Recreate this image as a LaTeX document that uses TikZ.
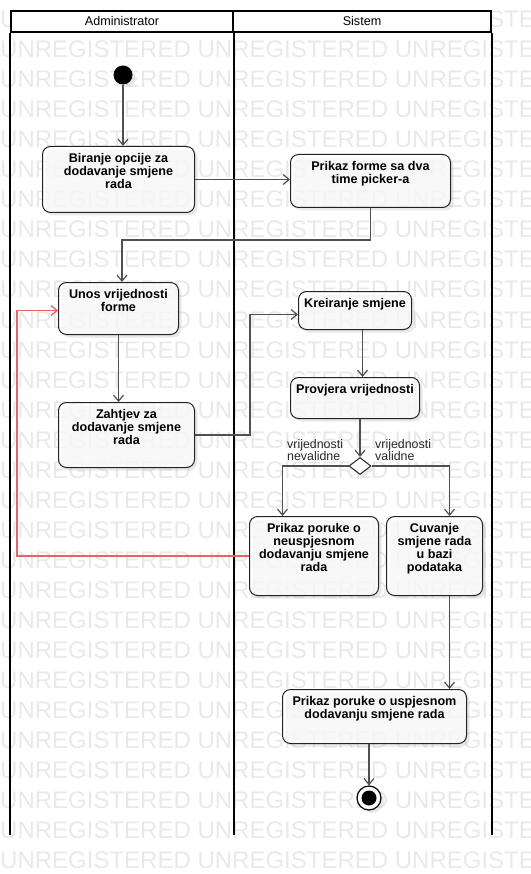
\documentclass[tikz,border=0pt]{standalone}
\usepackage{fontspec}
\setmainfont{Liberation Sans}
\usetikzlibrary{arrows.meta,shapes.geometric,shadows}
\definecolor{wmgray}{RGB}{233,233,233}
\definecolor{linegray}{RGB}{80,80,80}
\definecolor{boxline}{RGB}{35,35,35}
\definecolor{redline}{RGB}{232,100,100}
\newcommand\bxt[3]{\parbox[c][#2][t]{#1}{\centering\fontsize{12.6}{13}\selectfont\bfseries\rule{0pt}{16pt}#3\par}}
\begin{document}
\begin{tikzpicture}[x=1pt,y=-1pt,
  wm/.style={anchor=base west,inner sep=0,text=wmgray,font=\fontsize{24}{24}\selectfont},
  hdr/.style={draw=black,line width=2pt,fill=white,inner sep=0,anchor=north west,minimum height=21pt,font=\fontsize{12.6}{13}\selectfont},
  lane/.style={draw=black,line width=2pt},
  actbox/.style={draw=boxline,line width=1pt,rounded corners=8pt,fill=white,fill opacity=0.72,text opacity=1,inner sep=0,anchor=north west,
     drop shadow={shadow xshift=3pt,shadow yshift=-3pt,fill=black!25,opacity=0.35}},
  arr/.style={draw=linegray,line width=1.2pt,-{Straight Barb[length=6pt,width=10pt]}},
  redarr/.style={draw=redline,line width=1.3pt,-{Straight Barb[length=6pt,width=10pt]}},
  guard/.style={inner sep=0,anchor=north west,align=left,font=\fontsize{12.4}{12.2}\selectfont,text=black!85}
]
\useasboundingbox (0,0) rectangle (530,874);
% watermark
\begin{scope}
\clip (0,0) rectangle (530,874);
\foreach \k in {0,...,28}
  \node[wm] (wm\k) at (0,28+30*\k) {UNREGISTERED UNREGISTERED UNREGISTERED};
\end{scope}
% swimlanes
\node[hdr,minimum width=222pt] (hadmin) at (10,10) {Administrator};
\node[hdr,minimum width=258pt] (hsis) at (232,10) {Sistem};
\draw[lane] (hadmin.south west) -- ++(0,802);
\draw[lane] (hadmin.south east) -- ++(0,802);
\draw[lane] (hsis.south east) -- ++(0,802);
% start / end
\node[circle,fill=black,minimum size=19pt,inner sep=0,
  drop shadow={shadow xshift=3pt,shadow yshift=-3pt,fill=black!25,opacity=0.35}] (start) at (123,75) {};
\node[circle,draw=black,line width=1.2pt,fill=white,minimum size=24pt,inner sep=0,
  drop shadow={shadow xshift=3pt,shadow yshift=-3pt,fill=black!25,opacity=0.35},
  path picture={\fill[black] (path picture bounding box.center) circle (7.5pt);}] (end) at (369,798) {};
% activities
\node[actbox] (biranje) at (42,146) {\bxt{152pt}{66pt}{Biranje opcije za\\dodavanje smjene\\rada}};
\node[actbox] (forma) at (290,154) {\bxt{160pt}{53pt}{Prikaz forme sa dva\\time picker-a}};
\node[actbox] (unos) at (58,282) {\bxt{120pt}{52pt}{Unos vrijednosti\\forme}};
\node[actbox] (zahtjev) at (58,402) {\bxt{136pt}{65pt}{Zahtjev za\\dodavanje smjene\\rada}};
\node[actbox] (kreiranje) at (298,291) {\bxt{113pt}{38pt}{Kreiranje smjene}};
\node[actbox] (provjera) at (290,377) {\bxt{129pt}{41pt}{Provjera vrijednosti}};
\node[actbox] (neusp) at (249,516) {\bxt{129pt}{79pt}{Prikaz poruke o\\neuspjesnom\\dodavanju smjene\\rada}};
\node[actbox] (cuvanje) at (386,516) {\bxt{96pt}{79pt}{Cuvanje\\smjene rada\\u bazi\\podataka}};
\node[actbox] (uspjesno) at (282,689) {\bxt{184pt}{54pt}{Prikaz poruke o uspjesnom\\dodavanju smjene rada}};
% decision
\node[diamond,draw=boxline,line width=1pt,fill=white,minimum width=22pt,minimum height=17pt,inner sep=0,
  drop shadow={shadow xshift=3pt,shadow yshift=-3pt,fill=black!25,opacity=0.35}] (dec) at (360,466) {};
\node[guard] (gno) at (287,439) {vrijednosti\\nevalidne};
\node[guard] (gyes) at (375,439) {vrijednosti\\validne};
% helper coordinates
\coordinate (c1) at (122,240);
\coordinate (c2) at (250,0);
\coordinate (redx) at (17,0);
% connectors
\draw[arr] (start.south) -- (start.south |- biranje.north);
\draw[arr] (biranje.east) -- (biranje.east -| forma.west);
\draw[arr] (forma.south) |- (c1) -- (c1 |- unos.north);
\draw[arr] (unos.south) -- (unos.south |- zahtjev.north);
\draw[arr] (zahtjev.east) -- (zahtjev.east -| c2) |- ([yshift=-4pt]kreiranje.west);
\draw[arr] ([xshift=7.5pt]kreiranje.south) -- ([xshift=7.5pt]kreiranje.south |- provjera.north);
\draw[arr] (provjera.south -| dec.north) -- (dec.north);
\draw[arr] (dec.west) -| ([xshift=-31.5pt]neusp.north);
\draw[arr] (dec.east) -| ([xshift=15pt]cuvanje.north);
\draw[arr] ([xshift=15pt]cuvanje.south) -- ([xshift=15pt]cuvanje.south |- uspjesno.north);
\draw[arr] (uspjesno.south -| end.north) -- (end.north);
\draw[redarr] (neusp.west) -- (neusp.west -| redx) |- ([yshift=-2pt]unos.west);
\end{tikzpicture}
\end{document}
